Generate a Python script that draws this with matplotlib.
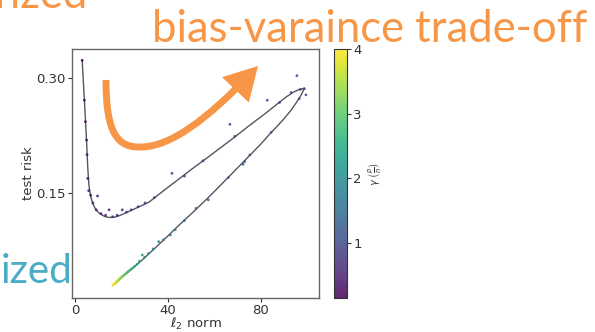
import matplotlib
matplotlib.use("Agg")
import matplotlib.pyplot as plt
from matplotlib.path import Path
from matplotlib.patches import FancyArrowPatch

# theory curve (l2 norm, test risk), upper branch then lower branch
line_norm = [2.9, 3.4, 3.9, 4.4, 4.9, 5.3, 5.8, 6.5, 7.5, 8.8, 10.5, 12.5, 14.5, 17, 19, 22, 26,
             31.7, 38, 44.5, 51, 57.3, 63, 68.7, 75, 81.6, 87, 91, 94, 96.5, 98.7,
             98.2, 97.2, 95.5, 93, 90, 87, 84.4, 80, 75, 68.7, 63, 57.3, 50, 45, 40.2,
             35, 30, 25, 20, 16.5, 16.0]
line_risk = [0.323, 0.295, 0.268, 0.240, 0.210, 0.183, 0.160, 0.146, 0.136, 0.128, 0.123, 0.1195,
             0.118, 0.1185, 0.1205, 0.1245, 0.130, 0.138, 0.153, 0.168, 0.183, 0.197, 0.210,
             0.223, 0.238, 0.253, 0.266, 0.2755, 0.2815, 0.285, 0.2866,
             0.283, 0.277, 0.269, 0.258, 0.247, 0.237, 0.229, 0.214, 0.1985, 0.179, 0.1615,
             0.144, 0.123, 0.109, 0.095, 0.080, 0.066, 0.0525, 0.040, 0.030, 0.0295]

# empirical points: gamma = p/n, l2 norm, test risk
pt_gamma = [0.14, 0.17, 0.20, 0.22, 0.25, 0.27, 0.30, 0.33, 0.36, 0.40, 0.43, 0.46, 0.50, 0.53,
            0.56, 0.59, 0.62, 0.65, 0.68, 0.71, 0.74, 0.77, 0.80, 0.83, 0.86, 0.89, 0.91, 0.93,
            0.95, 0.97, 0.98, 0.99, 1.00,
            1.02, 1.05, 1.08, 1.12, 1.15, 1.18, 1.22, 1.28, 1.35, 1.45, 1.55, 1.65, 1.75, 1.85,
            1.95, 2.05, 2.15, 2.25, 2.35, 2.45, 2.55, 2.65, 2.75, 2.85, 2.95, 3.05, 3.15, 3.25,
            3.35, 3.45, 3.55, 3.65, 3.75, 3.85, 3.92, 4.00]
pt_norm = [2.9, 3.85, 4.3, 4.8, 5.0, 5.3, 5.7, 6.6, 7.5, 9.5, 9.0, 11.0, 13.0, 14.5,
           16.0, 18.0, 20.2, 22.0, 24.0, 27.0, 30.0, 34.0, 41.6, 47.0, 55.0, 66.6, 68.7, 82.7,
           88.0, 95.5, 93.0, 97.0, 98.7,
           99.4, 96.5, 84.4, 75.2, 72.3, 73.0, 65.9, 57.3, 52.0, 47.0, 43.0, 40.9, 38.0, 35.9,
           33.5, 31.5, 29.8, 28.8, 27.6, 26.5, 25.5, 24.5, 23.6, 22.8, 22.0, 21.3, 20.6, 20.0,
           19.4, 18.9, 18.4, 18.0, 17.5, 17.0, 16.6, 16.2]
pt_risk = [0.323, 0.271, 0.243, 0.219, 0.200, 0.169, 0.153, 0.147, 0.137, 0.146, 0.128, 0.123,
           0.121, 0.128, 0.119, 0.121, 0.128, 0.125, 0.128, 0.132, 0.137, 0.144, 0.1757, 0.172,
           0.192, 0.2396, 0.224, 0.271, 0.268, 0.303, 0.281, 0.285, 0.286,
           0.278, 0.273, 0.229, 0.1996, 0.1874, 0.191, 0.170, 0.141, 0.130, 0.114, 0.102, 0.0952,
           0.089, 0.0865, 0.077, 0.071, 0.066, 0.0691, 0.061, 0.057, 0.0545, 0.052, 0.050, 0.048,
           0.046, 0.044, 0.042, 0.041, 0.039, 0.038, 0.036, 0.035, 0.034, 0.032, 0.031, 0.030]

orange = "#F79646"
blue = "#4BACC6"

fig = plt.figure(figsize=(5.95, 3.32), dpi=100)
ax = fig.add_axes([0.121, 0.1024, 0.415, 0.75])
cax = fig.add_axes([0.5613, 0.1024, 0.0218, 0.75])

ax.plot(line_norm, line_risk, color="#555560", lw=1.0, zorder=2)
sc = ax.scatter(pt_norm, pt_risk, c=pt_gamma, cmap="viridis", vmin=min(pt_gamma),
                vmax=max(pt_gamma), s=4, alpha=0.85, edgecolors="none", zorder=3)

ax.set_xlim(-1.5, 105)
ax.set_ylim(0.013, 0.3378)
ax.set_xticks([0, 40, 80])
ax.set_yticks([0.15, 0.30])
ax.set_yticklabels(["0.15", "0.30"])
ax.tick_params(labelsize=9.5, colors="#333333", length=3, width=0.8, pad=1.5)
ax.set_xlabel(r"$\ell_2$ norm", fontsize=9.5, color="#333333", labelpad=-1)
ax.set_ylabel("test risk", fontsize=9.5, color="#333333", labelpad=1)
for s in ax.spines.values():
    s.set_color("#666666")
    s.set_linewidth(1.0)

cb = fig.colorbar(sc, cax=cax, ticks=[1, 2, 3, 4])
cb.ax.tick_params(labelsize=9.5, colors="#333333", length=3, width=0.8, pad=1.5)
cb.outline.set_edgecolor("#333333")
cb.set_label(r"$\gamma\ \left(\frac{p}{n}\right)$", fontsize=7, color="#333333", labelpad=3)

# slide text around the chart
W, H = 595.0, 332.0
title = fig.text(152 / W, 1 - 42 / H, "bias-varaince trade-off", color=orange,
                 fontsize=30, family="Lato", ha="left", va="baseline")
fig.canvas.draw()
w = title.get_window_extent().width
fs = 30 * 435.0 / w
title.set_fontsize(fs)
fig.text(88 / W, 1 - 8 / H, "rized", color=orange, fontsize=fs, family="Lato",
         ha="right", va="baseline")
low = fig.text(73 / W, 1 - 283 / H, "ized", color=blue, fontsize=fs, family="Lato",
               ha="right", va="baseline")
fig.canvas.draw()
lw_ = low.get_window_extent().width
low.set_fontsize(fs * 72.0 / lw_)

# curved orange arrow
verts = [(106, 80), (106, 135), (118, 148), (142, 147),
         (170, 146), (205, 122), (258, 66)]
verts = [(x / W, 1 - y / H) for x, y in verts]
codes = [Path.MOVETO, Path.CURVE4, Path.CURVE4, Path.CURVE4,
         Path.CURVE4, Path.CURVE4, Path.CURVE4]
arrow = FancyArrowPatch(path=Path(verts, codes), transform=fig.transFigure,
                        arrowstyle="-|>,head_length=0.8,head_width=0.45",
                        mutation_scale=20, color=orange, lw=5, capstyle="butt",
                        joinstyle="miter", zorder=10)
fig.add_artist(arrow)

fig.savefig("out.png", dpi=100)
